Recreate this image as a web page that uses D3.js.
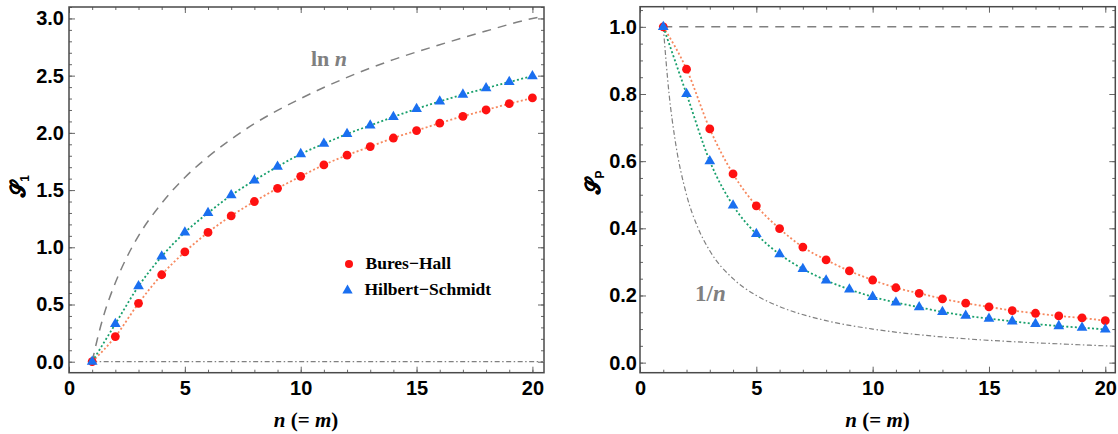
<!DOCTYPE html>
<html>
<head>
<meta charset="utf-8">
<script src="https://cdn.jsdelivr.net/npm/d3@7"></script>
<style>
  html, body { margin: 0; padding: 0; background: #fff; }
  svg { display: block; }
  .tick text { font-family: "Liberation Sans", Arial, sans-serif; font-weight: bold; font-size: 20px; fill: #000; }
</style>
</head>
<body>
<svg id="chart" width="1118" height="434"></svg>
<script>
// ---------------- data ----------------
const nVals = [1,2,3,4,5,6,7,8,9,10,11,12,13,14,15,16,17,18,19,20];
const s1BuresHall = [0, 0.22, 0.51, 0.76, 0.96, 1.13, 1.275, 1.40, 1.515, 1.62, 1.72, 1.805, 1.88, 1.955, 2.02, 2.085, 2.145, 2.20, 2.255, 2.305];
const s1HilbertSchmidt = [0, 0.33, 0.66, 0.92, 1.13, 1.30, 1.455, 1.585, 1.705, 1.815, 1.905, 1.99, 2.065, 2.14, 2.21, 2.275, 2.335, 2.39, 2.445, 2.495];
const spBuresHall = [1.0, 0.874, 0.696, 0.562, 0.467, 0.399, 0.344, 0.306, 0.273, 0.246, 0.223, 0.2065, 0.190, 0.177, 0.166, 0.155, 0.147, 0.139, 0.133, 0.125];
const spHilbertSchmidt = [1.0, 0.80, 0.60, 0.468, 0.383, 0.323, 0.279, 0.245, 0.218, 0.196, 0.179, 0.165, 0.151, 0.140, 0.131, 0.123, 0.115, 0.109, 0.104, 0.099];
// reference curves
const lnCurveN = [1, 1.25, 1.5, 2, 2.5, 3, 4, 5, 6, 7, 8, 10, 12, 14, 16, 18, 20, 20.5];
const lnCurveV = [0, 0.22, 0.405, 0.69, 0.915, 1.10, 1.385, 1.61, 1.79, 1.945, 2.08, 2.30, 2.485, 2.64, 2.77, 2.89, 3.0, 3.02];
const invCurveN = [1, 1.25, 1.5, 2, 2.5, 3, 4, 5, 6, 8, 10, 12, 14, 16, 18, 20, 20.4];
const invCurveV = [1, 0.80, 0.667, 0.50, 0.40, 0.333, 0.25, 0.20, 0.167, 0.125, 0.10, 0.083, 0.071, 0.0625, 0.056, 0.05, 0.049];
const zeroLineN = [1, 20.5];
const zeroLineV = [0, 0];
const oneLineN = [1, 20.4];
const oneLineV = [1, 1];
const xTicks = [0, 5, 10, 15, 20];
const yTicksLeft = [0, 0.5, 1.0, 1.5, 2.0, 2.5, 3.0];
const yTicksRight = [0, 0.2, 0.4, 0.6, 0.8, 1.0];
const legendLabels = ["Bures\u2212Hall", "Hilbert\u2212Schmidt"];

// ---------------- styles ----------------
const RED = "#ff1111", BLUE = "#1a6ff0", ORANGE = "#f7895f", GREEN = "#19a06d", GRAY = "#808080";
const FRAME = "#4a4a4a";

const svg = d3.select("#chart");
const zip = (a, b) => a.map((v, i) => [v, b[i]]);

function panel(opts) {
  const { left, right, top, bottom, xDomain, yDomain, yTicks, yMinorStep, yFmt, yPad } = opts;
  const x = d3.scaleLinear().domain(xDomain).range([left, right]);
  const y = d3.scaleLinear().domain(yDomain).range([bottom, top]);
  const g = svg.append("g");

  const xMinor = d3.range(0, Math.floor(xDomain[1]) + 1, 1);
  const yMinor = d3.range(0, yDomain[1] + 1e-9, yMinorStep).map(v => +v.toFixed(4));

  function addAxis(axis, tf) {
    const a = g.append("g").attr("transform", tf).call(axis);
    a.select(".domain").remove();
    a.selectAll(".tick line").attr("stroke", "#666").attr("stroke-width", 1);
    return a;
  }
  // minor ticks
  addAxis(d3.axisBottom(x).tickValues(xMinor).tickSize(-3).tickFormat(""), `translate(0,${bottom})`);
  addAxis(d3.axisTop(x).tickValues(xMinor).tickSize(-3).tickFormat(""), `translate(0,${top})`);
  addAxis(d3.axisLeft(y).tickValues(yMinor).tickSize(-3).tickFormat(""), `translate(${left},0)`);
  addAxis(d3.axisRight(y).tickValues(yMinor).tickSize(-3).tickFormat(""), `translate(${right},0)`);
  // major ticks
  addAxis(d3.axisBottom(x).tickValues(xTicks).tickSize(-6).tickPadding(8).tickFormat(d3.format("d")), `translate(0,${bottom})`);
  addAxis(d3.axisTop(x).tickValues(xTicks).tickSize(-6).tickFormat(""), `translate(0,${top})`);
  addAxis(d3.axisLeft(y).tickValues(yTicks).tickSize(-6).tickPadding(yPad).tickFormat(yFmt), `translate(${left},0)`);
  addAxis(d3.axisRight(y).tickValues(yTicks).tickSize(-6).tickFormat(""), `translate(${right},0)`);

  // frame
  g.append("rect").attr("x", left).attr("y", top).attr("width", right - left).attr("height", bottom - top)
    .attr("fill", "none").attr("stroke", FRAME).attr("stroke-width", 1.5);

  return { g, x, y };
}

function drawLine(p, xs, ys, color, dash, width, curve) {
  const line = d3.line().x(d => p.x(d[0])).y(d => p.y(d[1])).curve(curve || d3.curveMonotoneX);
  p.g.append("path").datum(zip(xs, ys)).attr("d", line)
    .attr("fill", "none").attr("stroke", color).attr("stroke-width", width).attr("stroke-dasharray", dash);
}
function drawCircles(p, xs, ys) {
  p.g.append("g").selectAll("circle").data(zip(xs, ys)).join("circle")
    .attr("cx", d => p.x(d[0])).attr("cy", d => p.y(d[1])).attr("r", 4.4).attr("fill", RED);
}
function drawTriangles(p, xs, ys) {
  const sym = d3.symbol(d3.symbolTriangle, 50);
  p.g.append("g").selectAll("path").data(zip(xs, ys)).join("path")
    .attr("d", sym).attr("transform", d => `translate(${p.x(d[0])},${p.y(d[1])})`).attr("fill", BLUE);
}
function xTitle(p, cx) {
  const t = p.g.append("text").attr("x", cx).attr("y", 427).attr("text-anchor", "middle")
    .attr("font-family", "'Liberation Serif', 'Times New Roman', serif").attr("font-weight", "bold").attr("font-size", 21);
  t.append("tspan").attr("font-style", "italic").text("n");
  t.append("tspan").text(" (= ");
  t.append("tspan").attr("font-style", "italic").text("m");
  t.append("tspan").text(")");
}
function yTitle(p, cx, cy, sub) {
  const t = p.g.append("text").attr("transform", `translate(${cx},${cy}) rotate(-90)`).attr("text-anchor", "middle")
    .attr("font-family", "'DejaVu Serif', 'Liberation Serif', serif").attr("font-size", 20).attr("font-weight", "bold")
    .attr("fill", "#000").attr("stroke", "#000").attr("stroke-width", 0.6);
  t.append("tspan").text("\u{1D4AE}");
  t.append("tspan").attr("font-size", 12).attr("dy", 4).attr("stroke-width", 0)
    .attr("font-family", "'Liberation Sans', sans-serif").text(sub);
}

// ---------------- left panel ----------------
const L = panel({ left: 69, right: 544, top: 7, bottom: 372.7, xDomain: [0, 20.5], yDomain: [-0.096, 3.1],
  yTicks: yTicksLeft, yMinorStep: 0.1, yFmt: d3.format(".1f"), yPad: 5 });
drawLine(L, lnCurveN, lnCurveV, GRAY, "9,7", 1.5);
drawLine(L, zeroLineN, zeroLineV, GRAY, "5,2.5,1.5,2.5", 1.2, d3.curveLinear);
drawLine(L, nVals, s1BuresHall, ORANGE, "2,2.3", 1.8);
drawLine(L, nVals, s1HilbertSchmidt, GREEN, "2,2.3", 1.8);
drawCircles(L, nVals, s1BuresHall);
drawTriangles(L, nVals, s1HilbertSchmidt);
xTitle(L, 306);
yTitle(L, 25, 186, "1");
// ln n label
{
  const t = L.g.append("text").attr("x", 311).attr("y", 66).attr("fill", GRAY)
    .attr("font-family", "'Liberation Serif', 'Times New Roman', serif").attr("font-weight", "bold").attr("font-size", 22);
  t.append("tspan").text("ln ");
  t.append("tspan").attr("font-style", "italic").text("n");
}
// legend
{
  const lg = L.g.append("g");
  lg.append("circle").attr("cx", 349).attr("cy", 264).attr("r", 4).attr("fill", RED);
  lg.append("path").attr("d", d3.symbol(d3.symbolTriangle, 46)()).attr("transform", "translate(347.5,290.5)").attr("fill", BLUE);
  lg.selectAll("text").data(legendLabels).join("text")
    .attr("x", (d, i) => i === 0 ? 365.5 : 364.5).attr("y", (d, i) => i === 0 ? 269 : 295)
    .attr("font-family", "'Liberation Serif', 'Times New Roman', serif").attr("font-weight", "bold").attr("font-size", 17.5)
    .text(d => d);
}

// ---------------- right panel ----------------
const R = panel({ left: 640, right: 1115.3, top: 6.7, bottom: 372.7, xDomain: [0, 20.43], yDomain: [-0.03, 1.06],
  yTicks: yTicksRight, yMinorStep: 0.05, yFmt: d3.format(".1f"), yPad: 3 });
drawLine(R, oneLineN, oneLineV, GRAY, "9,7", 1.5, d3.curveLinear);
drawLine(R, invCurveN, invCurveV, GRAY, "5,2.5,1.5,2.5", 1.2);
drawLine(R, nVals, spBuresHall, ORANGE, "2,2.3", 1.8);
drawLine(R, nVals, spHilbertSchmidt, GREEN, "2,2.3", 1.8);
drawCircles(R, nVals, spBuresHall);
drawTriangles(R, nVals, spHilbertSchmidt);
xTitle(R, 877.6);
yTitle(R, 600, 182, "P");
{
  const t = R.g.append("text").attr("x", 695).attr("y", 301).attr("fill", GRAY)
    .attr("font-family", "'Liberation Serif', 'Times New Roman', serif").attr("font-weight", "bold").attr("font-size", 23);
  t.append("tspan").text("1/");
  t.append("tspan").attr("font-style", "italic").text("n");
}
</script>
</body>
</html>
